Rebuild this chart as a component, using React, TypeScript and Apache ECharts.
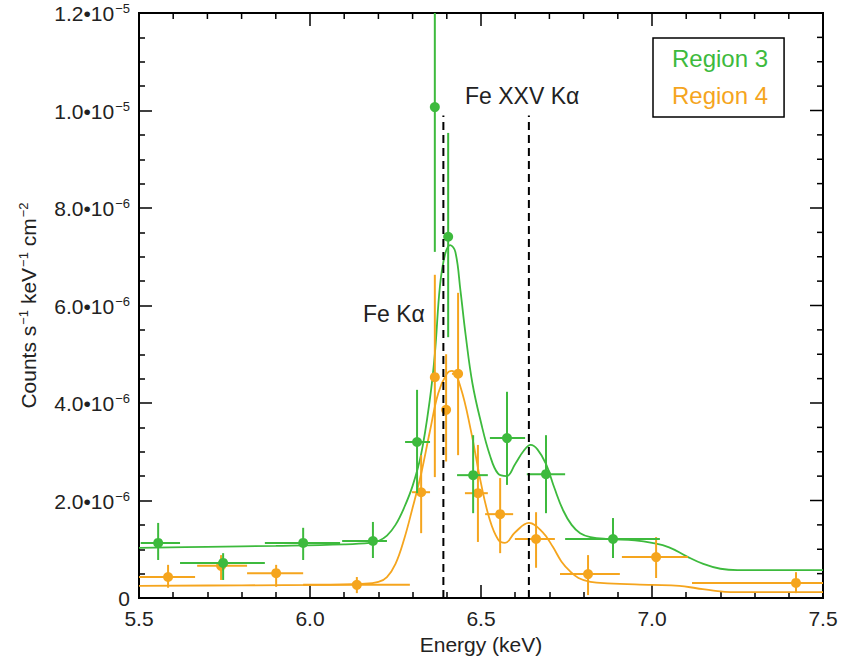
import React, { useEffect, useRef } from "react";
import * as echarts from "echarts";

// Spectrum values are in units of 10^-6 counts s^-1 keV^-1 cm^-2; energies in keV.

// Region 3 measured points with error bars
const r3Energy = [5.556, 5.746, 5.98, 6.184, 6.313, 6.365, 6.404, 6.477, 6.576, 6.69, 6.886];
const r3Value = [1.13, 0.72, 1.13, 1.17, 3.2, 10.07, 7.41, 2.52, 3.28, 2.54, 1.21];
const r3ELo = [5.505, 5.62, 5.868, 6.094, 6.278, 6.358, 6.397, 6.43, 6.526, 6.634, 6.746];
const r3EHi = [5.62, 5.868, 6.088, 6.225, 6.351, 6.372, 6.411, 6.52, 6.629, 6.746, 7.023];
const r3VLo = [0.78, 0.37, 0.78, 0.82, 2.15, 7.1, 5.35, 1.74, 2.32, 1.74, 0.82];
const r3VHi = [1.54, 0.92, 1.44, 1.56, 4.27, 12.0, 9.54, 3.34, 4.23, 3.34, 1.64];

// Region 4 measured points with error bars
const r4Energy = [5.585, 5.74, 5.901, 6.137, 6.325, 6.365, 6.398, 6.433, 6.491, 6.556, 6.661, 6.813, 7.012, 7.421];
const r4Value = [0.43, 0.66, 0.51, 0.27, 2.17, 4.53, 3.86, 4.6, 2.15, 1.72, 1.21, 0.49, 0.84, 0.31];
const r4ELo = [5.5, 5.67, 5.816, 5.98, 6.298, 6.358, 6.392, 6.415, 6.453, 6.512, 6.599, 6.731, 6.912, 7.117];
const r4EHi = [5.664, 5.816, 5.98, 6.292, 6.351, 6.372, 6.404, 6.447, 6.52, 6.594, 6.716, 6.906, 7.105, 7.5];
const r4VLo = [0.21, 0.37, 0.23, 0.1, 1.33, 2.48, 2.8, 2.93, 1.15, 0.92, 0.62, 0.06, 0.41, 0.1];
const r4VHi = [0.68, 0.88, 0.68, 0.43, 2.93, 6.63, 5.0, 6.26, 3.14, 2.46, 1.76, 0.88, 1.25, 0.53];

// Fitted model curves
const r3ModelE = [5.5, 5.7, 5.9, 6.1, 6.175, 6.2, 6.225, 6.25, 6.275, 6.3, 6.325, 6.35, 6.365, 6.38, 6.395, 6.41, 6.425, 6.44, 6.455, 6.475, 6.5, 6.525, 6.55, 6.575, 6.6, 6.625, 6.645, 6.665, 6.69, 6.715, 6.74, 6.765, 6.79, 6.82, 6.87, 6.95, 7.0, 7.05, 7.1, 7.15, 7.2, 7.25, 7.5];
const r3ModelV = [1.03, 1.05, 1.07, 1.1, 1.13, 1.17, 1.28, 1.5, 1.85, 2.3, 2.95, 4.05, 5.0, 6.4, 7.05, 7.24, 7.1, 6.3, 5.4, 4.4, 3.6, 2.95, 2.55, 2.5, 2.75, 3.02, 3.14, 3.05, 2.75, 2.25, 1.8, 1.5, 1.33, 1.25, 1.21, 1.18, 1.13, 1.04, 0.86, 0.7, 0.6, 0.57, 0.57];
const r4ModelE = [5.5, 5.8, 6.05, 6.15, 6.2, 6.225, 6.25, 6.275, 6.3, 6.325, 6.35, 6.375, 6.4, 6.415, 6.44, 6.47, 6.5, 6.525, 6.55, 6.57, 6.6, 6.64, 6.68, 6.71, 6.735, 6.76, 6.785, 6.82, 6.87, 7.0, 7.08, 7.13, 7.18, 7.23, 7.5];
const r4ModelV = [0.25, 0.26, 0.27, 0.29, 0.33, 0.43, 0.7, 1.2, 1.85, 2.55, 3.4, 4.2, 4.6, 4.66, 4.33, 3.45, 2.35, 1.62, 1.2, 1.13, 1.35, 1.54, 1.35, 1.05, 0.75, 0.55, 0.41, 0.33, 0.3, 0.27, 0.25, 0.2, 0.15, 0.12, 0.12];

// Line energies marked with dashed lines
const lineEnergies = [6.39, 6.64];
const lineTop = 9.9;

// Axis ranges: major step and number of minor divisions per step
const xTicks = { min: 5.5, max: 7.5, interval: 0.5, minorSplit: 5 };
const yTicks = { min: 0, max: 12, interval: 2, minorSplit: 4 };

const GREEN = "#3dba3d";
const ORANGE = "#f5a51e";
const FONT = "Liberation Sans, Arial, sans-serif";
const MAJOR_LEN = 13;
const MINOR_LEN = 6;

function rows(e: number[], v: number[], el: number[], eh: number[], vl: number[], vh: number[]) {
  return e.map((x, i) => [x, v[i], el[i], eh[i], vl[i], vh[i]]);
}

function tickValues(t: { min: number; max: number; interval: number; minorSplit: number }) {
  const major: number[] = [];
  const minor: number[] = [];
  const n = Math.round((t.max - t.min) / t.interval);
  for (let i = 0; i <= n; i++) {
    const base = t.min + i * t.interval;
    major.push(base);
    if (i < n) {
      for (let j = 1; j < t.minorSplit; j++) minor.push(base + (j * t.interval) / t.minorSplit);
    }
  }
  return { major, minor };
}

function errorBars(color: string) {
  return (_params: any, api: any) => {
    const x = api.value(0);
    const y = api.value(1);
    const c = api.coord([x, y]);
    const xl = api.coord([api.value(2), y]);
    const xh = api.coord([api.value(3), y]);
    const yl = api.coord([x, api.value(4)]);
    const yh = api.coord([x, api.value(5)]);
    return {
      type: "group",
      children: [
        { type: "line", shape: { x1: xl[0], y1: c[1], x2: xh[0], y2: c[1] }, style: { stroke: color, lineWidth: 2 } },
        { type: "line", shape: { x1: c[0], y1: yl[1], x2: c[0], y2: yh[1] }, style: { stroke: color, lineWidth: 2 } },
        { type: "circle", shape: { cx: c[0], cy: c[1], r: 5 }, style: { fill: color } },
      ],
    };
  };
}

function yLabel(v: number) {
  if (v === 0) return "{b|0}";
  if (v >= 10) return `{b|${(v / 10).toFixed(1)}•10}{s|−5}`;
  return `{b|${v.toFixed(1)}•10}{s|−6}`;
}

const labelRich = {
  b: { fontSize: 21, fontFamily: FONT, color: "#222", lineHeight: 22, verticalAlign: "bottom" },
  s: { fontSize: 13, fontFamily: FONT, color: "#222", lineHeight: 22, verticalAlign: "top", padding: [0, 0, 0, 1] },
};

const labelGraphics = [
  {
    type: "text",
    left: 465,
    top: 84,
    style: { text: "Fe XXV Kα", fontSize: 23, fontFamily: FONT, fill: "#222" },
    z: 20,
  },
  {
    type: "text",
    left: 363,
    top: 302,
    style: { text: "Fe Kα", fontSize: 23, fontFamily: FONT, fill: "#222" },
    z: 20,
  },
];

export default function App() {
  const ref = useRef<HTMLDivElement>(null);

  useEffect(() => {
    if (!ref.current) return;
    const chart = echarts.init(ref.current, null, { renderer: "svg" });

    const dashedSeries = lineEnergies.map((e) => ({
      type: "line",
      data: [
        [e, 0],
        [e, lineTop],
      ],
      showSymbol: false,
      silent: true,
      z: 10,
      lineStyle: { color: "#000", width: 2, type: [8, 5] },
    }));

    chart.setOption({
      animation: false,
      backgroundColor: "#fff",
      grid: {
        left: 139,
        right: 30,
        top: 13,
        bottom: 63,
        show: true,
        borderColor: "#000",
        borderWidth: 2,
        backgroundColor: "transparent",
      },
      legend: {
        left: 653,
        top: 38,
        orient: "vertical",
        itemWidth: 0,
        itemHeight: 26,
        itemGap: 11,
        padding: [7, 16, 9, 14],
        borderColor: "#000",
        borderWidth: 1.5,
        selectedMode: false,
        textStyle: { fontSize: 24, fontFamily: FONT, lineHeight: 26 },
        data: [
          { name: "Region 3", icon: "none", textStyle: { color: GREEN } },
          { name: "Region 4", icon: "none", textStyle: { color: ORANGE } },
        ],
      },
      xAxis: {
        type: "value",
        min: xTicks.min,
        max: xTicks.max,
        interval: xTicks.interval,
        name: "Energy (keV)",
        nameLocation: "middle",
        nameGap: 35,
        nameTextStyle: { fontSize: 21, fontFamily: FONT, color: "#222" },
        axisLine: { show: true, onZero: false, lineStyle: { color: "#000", width: 2 } },
        axisTick: { show: true, inside: true, length: MAJOR_LEN, lineStyle: { color: "#000", width: 1.5 } },
        minorTick: { show: true, splitNumber: xTicks.minorSplit, length: MINOR_LEN, lineStyle: { color: "#000", width: 1.5 } },
        splitLine: { show: false },
        minorSplitLine: { show: false },
        axisLabel: {
          fontSize: 21,
          fontFamily: FONT,
          color: "#222",
          margin: 10,
          formatter: (v: number) => v.toFixed(1),
        },
      },
      yAxis: {
        type: "value",
        min: yTicks.min,
        max: yTicks.max,
        interval: yTicks.interval,
        name: "{b|Counts s}{s|−1}{b| keV}{s|−1}{b| cm}{s|−2}",
        nameLocation: "middle",
        nameRotate: 90,
        nameGap: 100,
        nameTextStyle: { rich: labelRich },
        axisLine: { show: true, onZero: false, lineStyle: { color: "#000", width: 2 } },
        axisTick: { show: true, inside: true, length: MAJOR_LEN, lineStyle: { color: "#000", width: 1.5 } },
        minorTick: { show: true, splitNumber: yTicks.minorSplit, length: MINOR_LEN, lineStyle: { color: "#000", width: 1.5 } },
        splitLine: { show: false },
        minorSplitLine: { show: false },
        axisLabel: { margin: 9, formatter: yLabel, rich: labelRich },
      },
      graphic: labelGraphics,
      series: [
        {
          name: "Region 4 model",
          type: "line",
          data: r4ModelE.map((e, i) => [e, r4ModelV[i]]),
          showSymbol: false,
          smooth: 0.4,
          lineStyle: { color: ORANGE, width: 1.8 },
          z: 2,
        },
        {
          name: "Region 3 model",
          type: "line",
          data: r3ModelE.map((e, i) => [e, r3ModelV[i]]),
          showSymbol: false,
          smooth: 0.4,
          lineStyle: { color: GREEN, width: 1.8 },
          z: 2,
        },
        {
          name: "Region 4",
          type: "custom",
          renderItem: errorBars(ORANGE),
          itemStyle: { color: ORANGE },
          encode: { x: 0, y: 1 },
          data: rows(r4Energy, r4Value, r4ELo, r4EHi, r4VLo, r4VHi),
          z: 3,
        },
        {
          name: "Region 3",
          type: "custom",
          renderItem: errorBars(GREEN),
          itemStyle: { color: GREEN },
          encode: { x: 0, y: 1 },
          data: rows(r3Energy, r3Value, r3ELo, r3EHi, r3VLo, r3VHi),
          z: 4,
        },
        ...dashedSeries,
      ],
    });

    // Mirror the inward ticks on the top and right edges of the frame
    try {
      const toPx = (x: number, y: number) => chart.convertToPixel({ gridIndex: 0 }, [x, y]) as number[];
      const xt = tickValues(xTicks);
      const yt = tickValues(yTicks);
      const tickEls: any[] = [];
      const seg = (x1: number, y1: number, x2: number, y2: number) =>
        tickEls.push({
          type: "line",
          silent: true,
          z: 15,
          shape: { x1, y1, x2, y2 },
          style: { stroke: "#000", lineWidth: 1.5 },
        });
      const addTop = (v: number, len: number) => {
        const t = toPx(v, yTicks.max);
        seg(t[0], t[1], t[0], t[1] + len);
      };
      const addRight = (v: number, len: number) => {
        const r = toPx(xTicks.max, v);
        seg(r[0], r[1], r[0] - len, r[1]);
      };
      xt.major.forEach((v) => addTop(v, MAJOR_LEN));
      xt.minor.forEach((v) => addTop(v, MINOR_LEN));
      yt.major.forEach((v) => addRight(v, MAJOR_LEN));
      yt.minor.forEach((v) => addRight(v, MINOR_LEN));
      chart.setOption({ graphic: [...labelGraphics, ...tickEls] });
    } catch (_e) {
      // leave the frame without mirrored ticks
    }

    return () => chart.dispose();
  }, []);

  return (
    <div
      ref={ref}
      style={{ position: "fixed", left: 0, top: 0, width: 853, height: 661, background: "#fff" }}
    />
  );
}
